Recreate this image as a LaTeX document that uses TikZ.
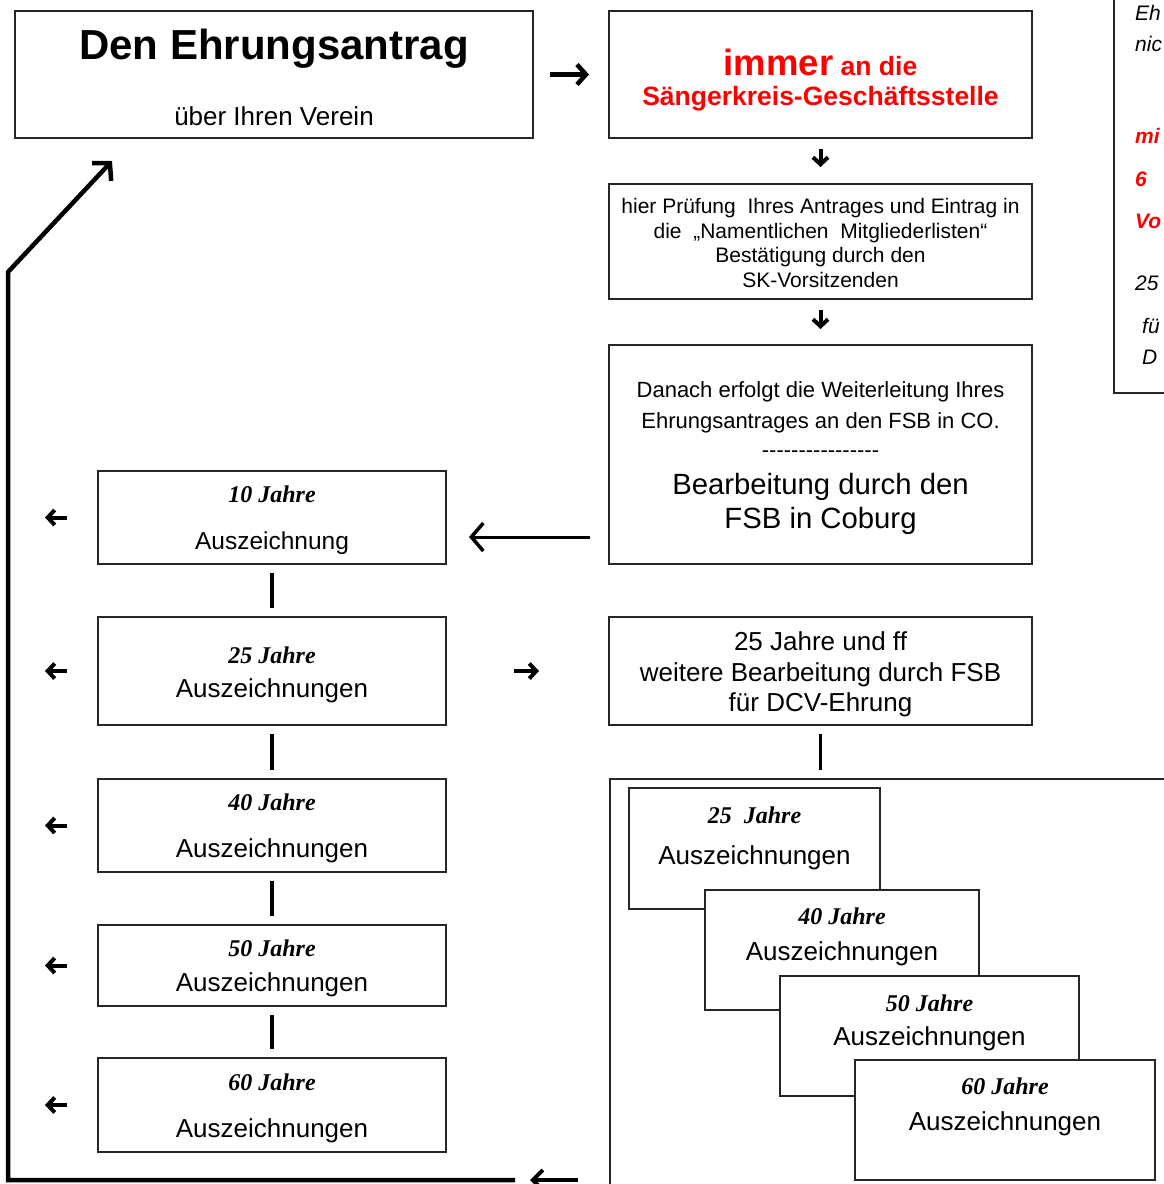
\documentclass[tikz,border=0pt]{standalone}
\usepackage{fontspec}
\setmainfont{Liberation Sans}
\newfontfamily\jahrfont{Liberation Serif}
\newfontfamily\strichfont{Liberation Sans}
\usetikzlibrary{arrows.meta,calc}
\newcommand\sz[2]{\fontsize{#1}{#2}\selectfont}
\definecolor{signalrot}{RGB}{255,0,0}

\tikzset{
  box/.style={draw=black!85,line width=2pt,fill=white,inner sep=0pt},
  link/.style={line width=3.5pt,shorten <=8pt,shorten >=8pt},
  arr/.style={line width=4pt,-{Straight Barb[length=7pt,width=15pt,line width=4pt]}},
  jahr/.style={font=\jahrfont\bfseries\itshape\sz{24}{28}},
  txt/.style={font=\sz{26}{30.5},align=center,yshift=-2.5pt},
  hinw/.style={anchor=west,inner sep=0pt,font=\itshape\sz{21}{24}},
}

\begin{document}
\begin{tikzpicture}[x=1pt,y=-1pt]
  \useasboundingbox (0,0) rectangle (1163,1184);

  % oben
  \node[box,minimum width=518pt,minimum height=127pt] (antrag) at (274,74.5) {};
  \node[font=\bfseries\sz{42}{48}] at (274,49) {Den Ehrungsantrag};
  \node[font=\sz{26}{30}] at (274,116) {über Ihren Verein};

  \node[box,minimum width=423pt,minimum height=127pt] (sk) at (820.5,74.5) {};
  \node[text=signalrot,font=\bfseries\sz{26.5}{30}] at (820.5,62) {{\sz{36.5}{40}immer} an die};
  \node[text=signalrot,font=\bfseries\sz{26.5}{30}] at (820.5,99) {Sängerkreis-Geschäftsstelle};

  \node[box,minimum width=423pt,minimum height=115pt] (pruef) at (820.5,241.5) {};
  \node[align=center,font=\sz{21}{24.5}] at (820.5,243) {hier Prüfung\ \ Ihres Antrages und Eintrag in\\die\ \ „Namentlichen\ \ Mitgliederlisten“\\Bestätigung durch den\\SK-Vorsitzenden};

  \node[box,minimum width=423pt,minimum height=219pt] (fsb) at (820.5,454.5) {};
  \node[align=center,font=\sz{22}{31}] at (820.5,407) {Danach erfolgt die Weiterleitung Ihres\\Ehrungsantrages an den FSB in CO.};
  \node[font=\strichfont\sz{22}{24}] at (820.5,454) {----------------};
  \node[align=center,font=\sz{29.3}{34}] at (820.5,504) {Bearbeitung durch den\\FSB in Coburg};

  % linke Spalte
  \node[box,minimum width=348pt,minimum height=93pt] (ten) at (272,517.5) {};
  \node[jahr] at (272,494) {10 Jahre};
  \node[font=\sz{24.5}{28}] at (272,543) {Auszeichnung};

  \node[box,minimum width=348pt,minimum height=108pt] (j25) at (272,671) {};
  \node[jahr] at (272,655) {25 Jahre};
  \node[txt] at (272,688) {Auszeichnungen};

  \node[box,minimum width=348pt,minimum height=93pt] (j40) at (272,825.5) {};
  \node[jahr] at (272,802) {40 Jahre};
  \node[txt] at (272,848) {Auszeichnungen};

  \node[box,minimum width=348pt,minimum height=81pt] (j50) at (272,965.5) {};
  \node[jahr] at (272,948) {50 Jahre};
  \node[txt] at (272,982) {Auszeichnungen};

  \node[box,minimum width=348pt,minimum height=94pt] (j60) at (272,1105) {};
  \node[jahr] at (272,1082) {60 Jahre};
  \node[txt] at (272,1128) {Auszeichnungen};

  % DCV
  \node[box,minimum width=423pt,minimum height=108pt] (dcv) at (820.5,671) {};
  \node[txt] at (820.5,672) {25 Jahre und ff\\weitere Bearbeitung durch FSB\\für DCV-Ehrung};

  \node[box,anchor=north west,minimum width=700pt,minimum height=500pt] (dcvrahmen) at (609,778) {};
  \node[box,minimum width=251pt,minimum height=121pt] (d25) at (754.5,848.5) {};
  \node[jahr] at (754.5,815) {25\ \ Jahre};
  \node[txt] at (754.5,855) {Auszeichnungen};
  \node[box,minimum width=274pt,minimum height=120pt] (d40) at (842,950) {};
  \node[jahr] at (842,916) {40 Jahre};
  \node[txt] at (842,951) {Auszeichnungen};
  \node[box,minimum width=299pt,minimum height=120pt] (d50) at (929.5,1036) {};
  \node[jahr] at (929.5,1003) {50 Jahre};
  \node[txt] at (929.5,1036) {Auszeichnungen};
  \node[box,minimum width=300pt,minimum height=120pt] (d60) at (1005,1120) {};
  \node[jahr] at (1005,1086) {60 Jahre};
  \node[txt] at (1005,1121) {Auszeichnungen};

  % Hinweis rechts oben
  \node[box,anchor=south west,minimum width=300pt,minimum height=500pt] (hinweis) at (1113,394) {};
  \node[hinw] at (1135,13) {Eh};
  \node[hinw] at (1135,44) {nic};
  \node[hinw,text=signalrot,font=\bfseries\itshape\sz{21}{24}] at (1135,136) {mi};
  \node[hinw,text=signalrot,font=\bfseries\itshape\sz{21}{24}] at (1135,179) {6};
  \node[hinw,text=signalrot,font=\bfseries\itshape\sz{21}{24}] at (1135,221) {Vo};
  \node[hinw] at (1135,283) {25};
  \node[hinw] at (1142,326) {fü};
  \node[hinw] at (1142,357) {D};

  % Pfeile
  \coordinate (lb) at (8,1180);
  \coordinate (lt) at (8,272);
  \coordinate (rb) at (515,1180);
  \coordinate (tip) at ($(antrag.south west)+(98,22)$);

  \draw[arr,-{Straight Barb[length=9pt,width=20pt,line width=4.5pt]},line width=4.5pt,shorten <=16pt,shorten >=19pt] (antrag.east) -- (sk.west);
  \draw[arr,shorten <=10pt,shorten >=16pt] (sk.south) -- (pruef.north);
  \draw[arr,shorten <=10pt,shorten >=15pt] (pruef.south) -- (fsb.north);
  \draw[arr,line width=3pt,-{Straight Barb[length=12pt,width=28pt,line width=3.5pt]},shorten <=18pt,shorten >=22pt]
    ($(fsb.west |- ten.east)+(0,19.5)$) -- ($(ten.east)+(0,19.5)$);
  \draw[arr,shorten <=67pt,shorten >=69pt] (j25.east) -- (dcv.west);

  \draw[link] (ten) -- (j25);
  \draw[link] (j25) -- (j40);
  \draw[link] (j40) -- (j50);
  \draw[link] (j50) -- (j60);
  \draw[link] (dcv.south) -- (dcv.south |- dcvrahmen.north);

  \draw[arr,shorten <=30pt,shorten >=37pt] (ten.west) -- (ten.west -| lb);
  \draw[arr,shorten <=30pt,shorten >=37pt] (j25.west) -- (j25.west -| lb);
  \draw[arr,shorten <=30pt,shorten >=37pt] (j40.west) -- (j40.west -| lb);
  \draw[arr,shorten <=30pt,shorten >=37pt] (j50.west) -- (j50.west -| lb);
  \draw[arr,shorten <=30pt,shorten >=37pt] (j60.west) -- (j60.west -| lb);

  \draw[line width=4.5pt,-{Straight Barb[length=12pt,width=26pt,line width=4.5pt]}] (rb) -- (lb) -- (lt) -- (tip);
  \draw[arr,-{Straight Barb[length=10pt,width=20pt,line width=4pt]},shorten <=31pt,shorten >=15pt] (dcvrahmen.west |- rb) -- (rb);
\end{tikzpicture}
\end{document}
